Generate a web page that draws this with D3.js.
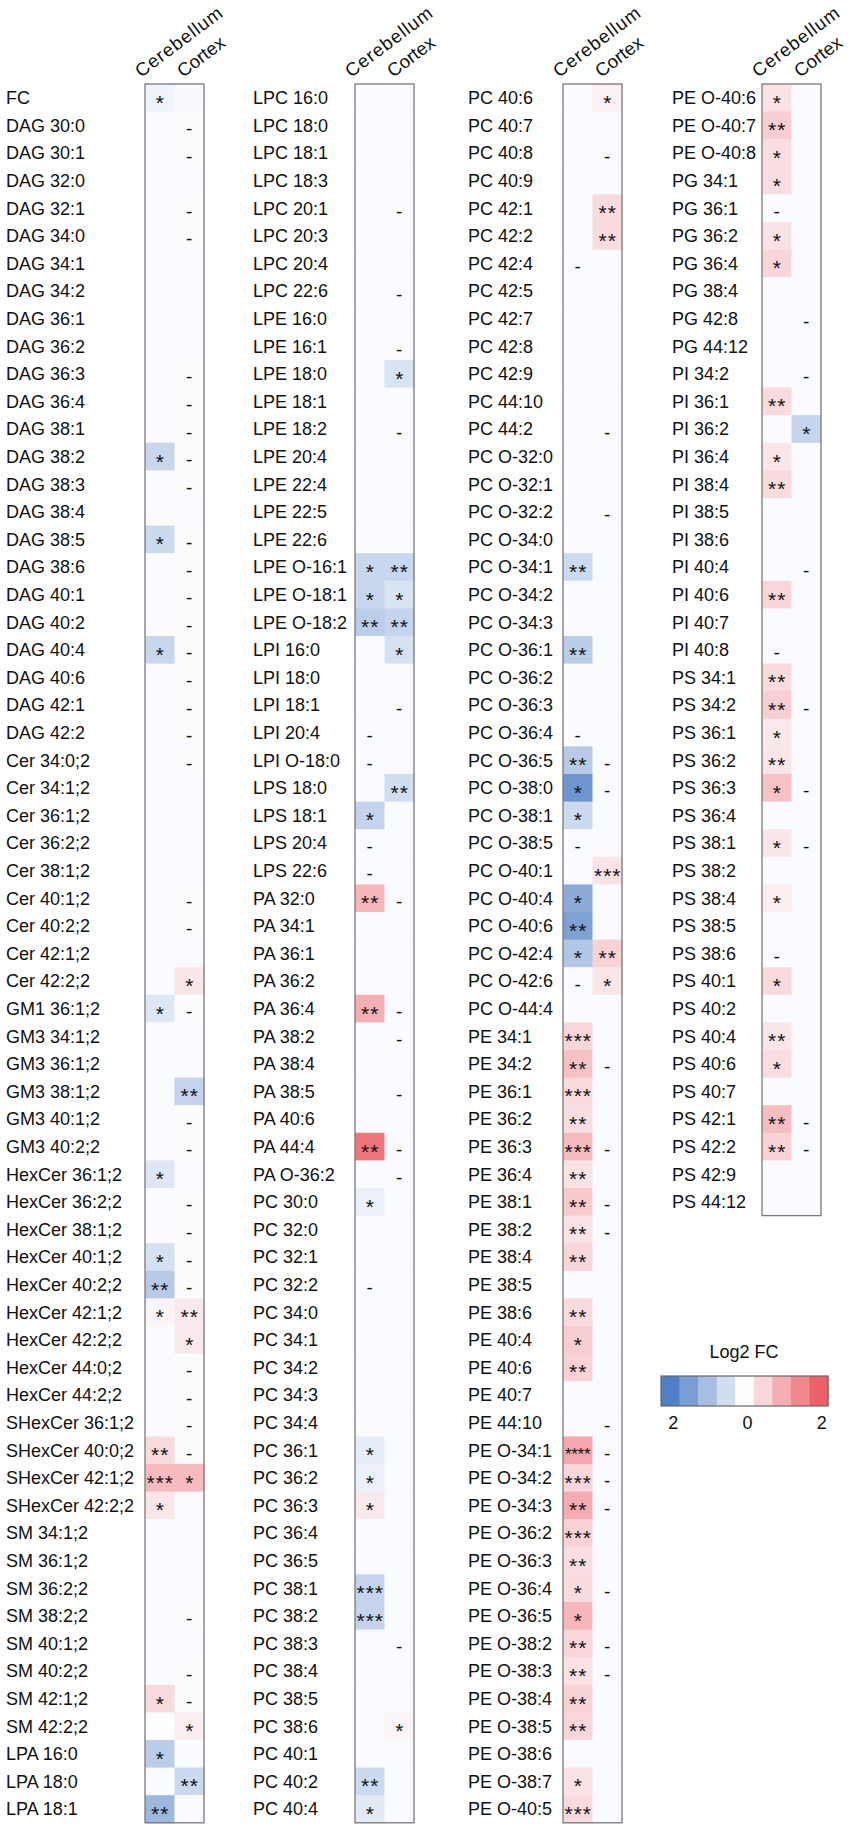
<!DOCTYPE html>
<html>
<head>
<meta charset="utf-8">
<script src="https://cdn.jsdelivr.net/npm/d3@7"></script>
<style>
  body { margin: 0; background: #fff; }
  text { font-family: "Liberation Sans", Arial, sans-serif; fill: #111; }
</style>
</head>
<body>
<svg id="chart" width="851" height="1830"></svg>
<script>
// columns shown in every panel
const tissues = ["Cerebellum", "Cortex"];

// ---- panel 1 ----
const labels1 = ["FC","DAG 30:0","DAG 30:1","DAG 32:0","DAG 32:1","DAG 34:0","DAG 34:1","DAG 34:2","DAG 36:1","DAG 36:2",
  "DAG 36:3","DAG 36:4","DAG 38:1","DAG 38:2","DAG 38:3","DAG 38:4","DAG 38:5","DAG 38:6","DAG 40:1","DAG 40:2",
  "DAG 40:4","DAG 40:6","DAG 42:1","DAG 42:2","Cer 34:0;2","Cer 34:1;2","Cer 36:1;2","Cer 36:2;2","Cer 38:1;2","Cer 40:1;2",
  "Cer 40:2;2","Cer 42:1;2","Cer 42:2;2","GM1 36:1;2","GM3 34:1;2","GM3 36:1;2","GM3 38:1;2","GM3 40:1;2","GM3 40:2;2","HexCer 36:1;2",
  "HexCer 36:2;2","HexCer 38:1;2","HexCer 40:1;2","HexCer 40:2;2","HexCer 42:1;2","HexCer 42:2;2","HexCer 44:0;2","HexCer 44:2;2","SHexCer 36:1;2","SHexCer 40:0;2",
  "SHexCer 42:1;2","SHexCer 42:2;2","SM 34:1;2","SM 36:1;2","SM 36:2;2","SM 38:2;2","SM 40:1;2","SM 40:2;2","SM 42:1;2","SM 42:2;2",
  "LPA 16:0","LPA 18:0","LPA 18:1"];
const cereb1 = [-0.15,-0.03,-0.03,-0.03,-0.03,-0.03,-0.03,-0.03,-0.03,-0.03,
  -0.03,-0.03,-0.03,-0.6,-0.03,-0.03,-0.55,-0.03,-0.03,-0.03,
  -0.6,-0.03,-0.03,-0.03,-0.03,-0.03,-0.03,-0.03,-0.03,-0.03,
  -0.03,-0.03,-0.03,-0.35,-0.03,-0.03,-0.03,-0.03,-0.03,-0.35,
  -0.03,-0.03,-0.45,-0.8,0.1,-0.03,-0.03,-0.03,-0.03,0.45,
  0.85,0.3,-0.03,-0.03,-0.03,-0.03,-0.03,-0.03,0.45,0.0,
  -0.75,-0.03,-1.1];
const cortex1 = [-0.05,-0.02,-0.02,-0.03,-0.02,-0.02,-0.03,-0.03,-0.03,-0.03,
  -0.02,-0.02,-0.02,-0.02,-0.02,-0.03,-0.02,-0.02,-0.02,-0.02,
  -0.02,-0.02,-0.02,-0.02,-0.02,-0.03,-0.03,-0.03,-0.03,-0.02,
  -0.02,-0.03,0.3,-0.02,-0.03,-0.03,-0.65,-0.02,-0.02,-0.03,
  -0.02,-0.02,-0.02,-0.02,0.25,0.25,-0.02,-0.02,-0.02,-0.02,
  0.85,-0.03,-0.03,-0.03,-0.03,-0.02,-0.03,-0.02,-0.02,0.2,
  -0.03,-0.55,-0.03];
const sigCereb1 = ["*","","","","","","","","","",
  "","","","*","","","*","","","",
  "*","","","","","","","","","",
  "","","","*","","","","","","*",
  "","","*","**","*","","","","","**",
  "***","*","","","","","","","*","",
  "*","","**"];
const sigCortex1 = ["","-","-","","-","-","","","","",
  "-","-","-","-","-","","-","-","-","-",
  "-","-","-","-","-","","","","","-",
  "-","","*","-","","","**","-","-","",
  "-","-","-","-","**","*","-","-","-","-",
  "*","","","","","-","","-","-","*",
  "","**",""];

// ---- panel 2 ----
const labels2 = ["LPC 16:0","LPC 18:0","LPC 18:1","LPC 18:3","LPC 20:1","LPC 20:3","LPC 20:4","LPC 22:6","LPE 16:0","LPE 16:1",
  "LPE 18:0","LPE 18:1","LPE 18:2","LPE 20:4","LPE 22:4","LPE 22:5","LPE 22:6","LPE O-16:1","LPE O-18:1","LPE O-18:2",
  "LPI 16:0","LPI 18:0","LPI 18:1","LPI 20:4","LPI O-18:0","LPS 18:0","LPS 18:1","LPS 20:4","LPS 22:6","PA 32:0",
  "PA 34:1","PA 36:1","PA 36:2","PA 36:4","PA 38:2","PA 38:4","PA 38:5","PA 40:6","PA 44:4","PA O-36:2",
  "PC 30:0","PC 32:0","PC 32:1","PC 32:2","PC 34:0","PC 34:1","PC 34:2","PC 34:3","PC 34:4","PC 36:1",
  "PC 36:2","PC 36:3","PC 36:4","PC 36:5","PC 38:1","PC 38:2","PC 38:3","PC 38:4","PC 38:5","PC 38:6",
  "PC 40:1","PC 40:2","PC 40:4"];
const cereb2 = [-0.03,-0.03,-0.03,-0.03,-0.03,-0.03,-0.03,-0.03,-0.03,-0.03,
  -0.03,-0.03,-0.03,-0.03,-0.03,-0.03,-0.03,-0.6,-0.6,-0.75,
  -0.03,-0.03,-0.03,-0.03,-0.03,-0.03,-0.65,-0.03,-0.03,0.9,
  -0.03,-0.03,-0.03,1.0,-0.03,-0.03,-0.03,-0.03,1.75,-0.03,
  -0.2,-0.03,-0.03,-0.03,-0.03,-0.03,-0.03,-0.03,-0.03,-0.25,
  -0.2,0.25,-0.03,-0.03,-0.65,-0.65,-0.03,-0.03,-0.03,-0.03,
  -0.03,-0.55,-0.3];
const cortex2 = [-0.03,-0.03,-0.03,-0.03,-0.03,-0.03,-0.03,-0.03,-0.03,-0.03,
  -0.4,-0.03,-0.03,-0.03,-0.03,-0.03,-0.03,-0.6,-0.4,-0.65,
  -0.45,-0.03,-0.03,-0.03,-0.03,-0.5,-0.03,-0.03,-0.03,-0.03,
  -0.03,-0.03,-0.03,-0.03,-0.03,-0.03,-0.03,-0.03,-0.03,-0.03,
  -0.03,-0.03,-0.03,-0.03,-0.03,-0.03,-0.03,-0.03,-0.03,-0.03,
  -0.03,-0.03,-0.03,-0.03,-0.03,-0.03,-0.03,-0.03,-0.03,0.1,
  -0.03,-0.03,-0.03];
const sigCereb2 = ["","","","","","","","","","",
  "","","","","","","","*","*","**",
  "","","","-","-","","*","-","-","**",
  "","","","**","","","","","**","",
  "*","","","-","","","","","","*",
  "*","*","","","***","***","","","","",
  "","**","*"];
const sigCortex2 = ["","","","","-","","","-","","-",
  "*","","-","","","","","**","*","**",
  "*","","-","","","**","","","","-",
  "","","","-","-","","-","","-","-",
  "","","","","","","","","","",
  "","","","","","","-","","","*",
  "","",""];

// ---- panel 3 ----
const labels3 = ["PC 40:6","PC 40:7","PC 40:8","PC 40:9","PC 42:1","PC 42:2","PC 42:4","PC 42:5","PC 42:7","PC 42:8",
  "PC 42:9","PC 44:10","PC 44:2","PC O-32:0","PC O-32:1","PC O-32:2","PC O-34:0","PC O-34:1","PC O-34:2","PC O-34:3",
  "PC O-36:1","PC O-36:2","PC O-36:3","PC O-36:4","PC O-36:5","PC O-38:0","PC O-38:1","PC O-38:5","PC O-40:1","PC O-40:4",
  "PC O-40:6","PC O-42:4","PC O-42:6","PC O-44:4","PE 34:1","PE 34:2","PE 36:1","PE 36:2","PE 36:3","PE 36:4",
  "PE 38:1","PE 38:2","PE 38:4","PE 38:5","PE 38:6","PE 40:4","PE 40:6","PE 40:7","PE 44:10","PE O-34:1",
  "PE O-34:2","PE O-34:3","PE O-36:2","PE O-36:3","PE O-36:4","PE O-36:5","PE O-38:2","PE O-38:3","PE O-38:4","PE O-38:5",
  "PE O-38:6","PE O-38:7","PE O-40:5"];
const cereb3 = [-0.03,-0.03,-0.03,-0.03,-0.03,-0.03,-0.03,-0.03,-0.03,-0.03,
  -0.03,-0.03,-0.03,-0.03,-0.03,-0.03,-0.03,-0.55,-0.03,-0.03,
  -0.75,-0.03,-0.03,-0.03,-0.8,-1.65,-0.55,-0.03,-0.03,-1.3,
  -1.45,-0.85,-0.03,-0.03,0.5,0.75,0.45,0.4,0.85,0.35,
  0.65,0.35,0.5,-0.03,0.45,0.6,0.55,-0.03,-0.03,1.1,
  0.5,1.05,0.55,0.4,0.45,0.9,0.5,0.35,0.55,0.5,
  -0.03,0.35,0.45];
const cortex3 = [0.15,-0.03,-0.03,-0.03,0.45,0.45,-0.03,-0.03,-0.03,-0.03,
  -0.03,-0.03,-0.03,-0.03,-0.03,-0.03,-0.03,-0.03,-0.03,-0.03,
  -0.03,-0.03,-0.03,-0.03,-0.03,-0.03,-0.03,-0.03,0.35,-0.03,
  -0.03,0.55,0.3,-0.03,-0.03,-0.03,-0.03,-0.03,-0.03,-0.03,
  -0.03,-0.03,-0.03,-0.03,-0.03,-0.03,-0.03,-0.03,-0.03,-0.03,
  -0.03,-0.03,-0.03,-0.03,-0.03,-0.03,-0.03,-0.03,-0.03,-0.03,
  -0.03,-0.03,-0.03];
const sigCereb3 = ["","","","","","","-","","","",
  "","","","","","","","**","","",
  "**","","","-","**","*","*","-","","*",
  "**","*","-","","***","**","***","**","***","**",
  "**","**","**","","**","*","**","","","****",
  "***","**","***","**","*","*","**","**","**","**",
  "","*","***"];
const sigCortex3 = ["*","","-","","**","**","","","","",
  "","","-","","","-","","","","",
  "","","","","-","-","","","***","",
  "","**","*","","","-","","","-","",
  "-","-","","","","","","","-","-",
  "-","-","","","-","","-","-","","",
  "","",""];

// ---- panel 4 ----
const labels4 = ["PE O-40:6","PE O-40:7","PE O-40:8","PG 34:1","PG 36:1","PG 36:2","PG 36:4","PG 38:4","PG 42:8","PG 44:12",
  "PI 34:2","PI 36:1","PI 36:2","PI 36:4","PI 38:4","PI 38:5","PI 38:6","PI 40:4","PI 40:6","PI 40:7",
  "PI 40:8","PS 34:1","PS 34:2","PS 36:1","PS 36:2","PS 36:3","PS 36:4","PS 38:1","PS 38:2","PS 38:4",
  "PS 38:5","PS 38:6","PS 40:1","PS 40:2","PS 40:4","PS 40:6","PS 40:7","PS 42:1","PS 42:2","PS 42:9",
  "PS 44:12"];
const cereb4 = [0.35,0.6,0.4,0.4,-0.03,0.35,0.5,-0.03,-0.03,-0.03,
  -0.03,0.45,-0.03,0.3,0.45,-0.03,-0.03,-0.03,0.5,-0.03,
  -0.03,0.45,0.6,0.25,0.3,0.75,-0.03,0.3,-0.03,0.2,
  -0.03,-0.03,0.45,-0.03,0.3,0.4,-0.03,0.8,0.55,-0.03,
  -0.03];
const cortex4 = [-0.03,-0.03,-0.03,-0.03,-0.03,-0.03,-0.03,-0.03,-0.03,-0.03,
  -0.03,-0.03,-0.65,-0.03,-0.03,-0.03,-0.03,-0.03,-0.03,-0.03,
  -0.03,-0.03,-0.03,-0.03,-0.03,-0.03,-0.03,-0.03,-0.03,-0.03,
  -0.03,-0.03,-0.03,-0.03,-0.03,-0.03,-0.03,-0.03,-0.03,-0.03,
  -0.03];
const sigCereb4 = ["*","**","*","*","-","*","*","","","",
  "","**","","*","**","","","","**","",
  "-","**","**","*","**","*","","*","","*",
  "","-","*","","**","*","","**","**","",
  ""];
const sigCortex4 = ["","","","","","","","","-","",
  "-","","*","","","","","-","","",
  "","","-","","","-","","-","","",
  "","","","","","","","-","-","",
  ""];

// colour bar
const legendSteps = [-2, -1.5, -1, -0.5, 0, 0.5, 1, 1.5, 2];
const legendTicks = [{v: -2, t: "2"}, {v: 0, t: "0"}, {v: 2, t: "2"}];

// layout
const topY = 84, rowStep = 27.6, boxW = 59;
const labelX = [6, 253, 468, 672];
const boxX = [145, 355, 563, 762];

const panels = [
  {labels: labels1, vals: [cereb1, cortex1], sig: [sigCereb1, sigCortex1]},
  {labels: labels2, vals: [cereb2, cortex2], sig: [sigCereb2, sigCortex2]},
  {labels: labels3, vals: [cereb3, cortex3], sig: [sigCereb3, sigCortex3]},
  {labels: labels4, vals: [cereb4, cortex4], sig: [sigCereb4, sigCortex4]}
];

const color = d3.scaleLinear()
  .domain([-2, 0, 2])
  .range(["#4f7fc4", "#fcfdff", "#ee6068"])
  .clamp(true);

const svg = d3.select("#chart");

// font size / baseline shift of a significance mark
function sigStyle(s) {
  if (s === "-") return {size: 19, dy: 9.5, ls: 0};
  if (s.length >= 4) return {size: 17, dy: 10, ls: -0.3};
  return {size: 21, dy: 12, ls: 1};
}

panels.forEach(function(p, pi) {
  const n = p.labels.length;
  const y = d3.scaleBand().domain(d3.range(n)).range([topY, topY + n * rowStep]);
  const x = d3.scaleBand().domain(tissues).range([boxX[pi], boxX[pi] + boxW]);
  const g = svg.append("g").attr("class", "panel");

  // one record per cell
  const cells = [];
  p.labels.forEach(function(lab, i) {
    tissues.forEach(function(t, j) {
      cells.push({row: i, tissue: t, value: p.vals[j][i], sig: p.sig[j][i]});
    });
  });

  g.selectAll("rect.cell")
    .data(cells)
    .enter()
    .append("rect")
    .attr("class", "cell")
    .attr("x", d => x(d.tissue))
    .attr("y", d => y(d.row))
    .attr("width", x.bandwidth() + 0.5)
    .attr("height", y.bandwidth() + 0.5)
    .style("fill", d => color(d.value));

  g.append("rect")
    .attr("x", boxX[pi])
    .attr("y", topY)
    .attr("width", boxW)
    .attr("height", n * rowStep)
    .style("fill", "none")
    .style("stroke", "#7a7a7a")
    .style("stroke-width", 1.3);

  // significance marks
  g.selectAll("text.sig")
    .data(cells.filter(d => d.sig !== ""))
    .enter()
    .append("text")
    .attr("class", "sig")
    .attr("x", d => x(d.tissue) + x.bandwidth() / 2 + sigStyle(d.sig).ls / 2)
    .attr("y", d => y(d.row) + y.bandwidth() / 2 + sigStyle(d.sig).dy)
    .attr("text-anchor", "middle")
    .style("font-size", d => sigStyle(d.sig).size + "px")
    .style("letter-spacing", d => sigStyle(d.sig).ls + "px")
    .text(d => d.sig);

  // row labels
  g.selectAll("text.row")
    .data(p.labels)
    .enter()
    .append("text")
    .attr("class", "row")
    .attr("x", labelX[pi])
    .attr("y", (d, i) => y(i) + y.bandwidth() / 2 + 6.4)
    .style("font-size", "18px")
    .text(d => d);

  // column headers
  g.selectAll("text.col")
    .data(tissues)
    .enter()
    .append("text")
    .attr("class", "col")
    .attr("transform", (d, j) => "translate(" + (boxX[pi] + (j === 0 ? -4 : 38)) + "," + (topY - 6) + ") rotate(-37)")
    .style("font-size", "18.5px")
    .style("letter-spacing", (d, j) => j === 0 ? "1px" : "0px")
    .text(d => d);
});

// legend
const lx = d3.scaleBand().domain(legendSteps).range([661, 828]);
const lg = svg.append("g").attr("class", "legend");
lg.append("text")
  .attr("x", 744)
  .attr("y", 1358)
  .attr("text-anchor", "middle")
  .style("font-size", "18px")
  .text("Log2 FC");
lg.selectAll("rect.step")
  .data(legendSteps)
  .enter()
  .append("rect")
  .attr("class", "step")
  .attr("x", d => lx(d))
  .attr("y", 1376)
  .attr("width", lx.bandwidth() + 0.5)
  .attr("height", 30)
  .style("fill", d => color(d));
lg.append("rect")
  .attr("x", 661).attr("y", 1376)
  .attr("width", 167).attr("height", 30)
  .style("fill", "none")
  .style("stroke", "#666")
  .style("stroke-width", 1.2);
lg.selectAll("text.tick")
  .data(legendTicks)
  .enter()
  .append("text")
  .attr("class", "tick")
  .attr("x", d => lx(d.v) + lx.bandwidth() / 2 + 3)
  .attr("y", 1429)
  .attr("text-anchor", "middle")
  .style("font-size", "18px")
  .text(d => d.t);
</script>
</body>
</html>
